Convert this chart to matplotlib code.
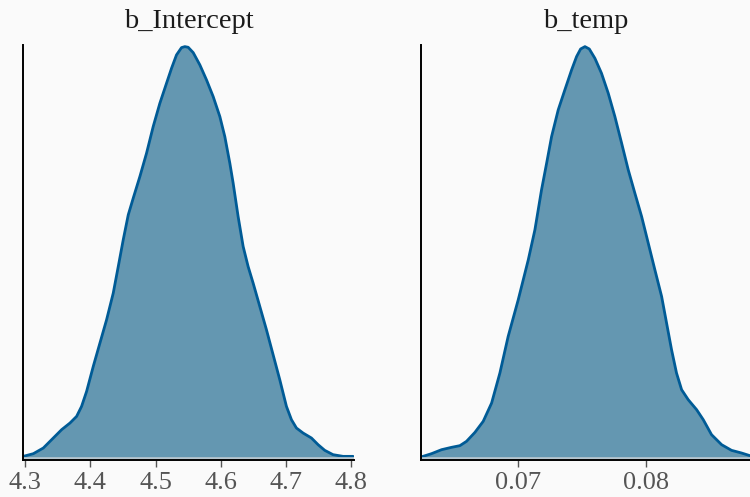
# Densidades posteriores de b_Intercept e b_temp (estilo bayesplot)
import matplotlib.pyplot as plt

# b_Intercept: pontos (x, densidade relativa ao pico)
intercept_x = [4.2974, 4.3128, 4.3281, 4.3434, 4.3561, 4.3689, 4.3791, 4.3867, 4.3944,
               4.4046, 4.4148, 4.4250, 4.4352, 4.4429, 4.4505, 4.4582, 4.4658, 4.4760,
               4.4862, 4.4964, 4.5066, 4.5168, 4.5245, 4.5321, 4.5398, 4.5449, 4.5500,
               4.5577, 4.5679, 4.5781, 4.5883, 4.5985, 4.6061, 4.6138, 4.6189, 4.6265,
               4.6342, 4.6418, 4.6495, 4.6597, 4.6699, 4.6801, 4.6903, 4.7005, 4.7082,
               4.7158, 4.7260, 4.7388, 4.7490, 4.7592, 4.7719, 4.7872, 4.8026]
intercept_d = [0.0040, 0.0105, 0.0243, 0.0486, 0.0688, 0.0850, 0.1012, 0.1255, 0.1619,
               0.2227, 0.2794, 0.3360, 0.4008, 0.4656, 0.5304, 0.5911, 0.6316, 0.6842,
               0.7409, 0.8057, 0.8623, 0.9109, 0.9474, 0.9798, 0.9976, 1.0000, 0.9984,
               0.9854, 0.9555, 0.9190, 0.8785, 0.8300, 0.7814, 0.7166, 0.6680, 0.5870,
               0.5142, 0.4656, 0.4251, 0.3684, 0.3117, 0.2510, 0.1903, 0.1255, 0.0931,
               0.0729, 0.0607, 0.0486, 0.0324, 0.0186, 0.0081, 0.0040, 0.0040]

# b_temp
temp_x = [0.06236, 0.06319, 0.06398, 0.06476, 0.06542, 0.06594, 0.06660, 0.06725,
          0.06791, 0.06856, 0.06921, 0.07000, 0.07079, 0.07131, 0.07183, 0.07223,
          0.07262, 0.07314, 0.07366, 0.07419, 0.07458, 0.07490, 0.07524, 0.07558,
          0.07602, 0.07654, 0.07707, 0.07759, 0.07812, 0.07864, 0.07916, 0.07969,
          0.08021, 0.08073, 0.08126, 0.08165, 0.08204, 0.08243, 0.08283, 0.08335,
          0.08401, 0.08453, 0.08518, 0.08597, 0.08675, 0.08754, 0.08819]
temp_d = [0.0024, 0.0105, 0.0202, 0.0259, 0.0300, 0.0405, 0.0623, 0.0891,
          0.1336, 0.2065, 0.2955, 0.3846, 0.4818, 0.5547, 0.6518, 0.7166,
          0.7814, 0.8462, 0.8947, 0.9433, 0.9757, 0.9943, 1.0000, 0.9943,
          0.9717, 0.9352, 0.8866, 0.8300, 0.7652, 0.7004, 0.6437, 0.5870,
          0.5223, 0.4575, 0.3927, 0.3279, 0.2632, 0.2065, 0.1660, 0.1417,
          0.1174, 0.0931, 0.0567, 0.0324, 0.0186, 0.0121, 0.0057]

panels = [
    ("b_Intercept", intercept_x, intercept_d, [4.3, 4.4, 4.5, 4.6, 4.7, 4.8],
     ["4.3", "4.4", "4.5", "4.6", "4.7", "4.8"], (4.297, 4.804)),
    ("b_temp", temp_x, temp_d, [0.07, 0.08], ["0.07", "0.08"], (0.06234, 0.0882)),
]

BG = "#fafafa"
FILL = "#6497b1"
LINE = "#005b96"

plt.rcParams["font.family"] = ["Liberation Serif", "DejaVu Serif"]

fig = plt.figure(figsize=(7.5, 4.97), dpi=100)
fig.patch.set_facecolor(BG)

boxes = [[0.0307, 0.0735, 0.4413, 0.836], [0.5609, 0.0735, 0.4391, 0.836]]

for box, (title, xs, ds, ticks, labels, xlim) in zip(boxes, panels):
    ax = fig.add_axes(box)
    ax.set_facecolor(BG)
    ax.fill_between(xs, 0, ds, color=FILL, linewidth=0, zorder=1)
    ax.plot(xs, ds, color=LINE, linewidth=2.0, zorder=2,
            solid_capstyle="round", solid_joinstyle="round")
    ax.axhline(0, color="#b8c6cf", linewidth=1.2, zorder=2)

    ax.set_xlim(*xlim)
    ax.set_ylim(-0.006, 1.004)
    ax.set_xticks(ticks)
    ax.set_xticklabels(labels)
    ax.set_yticks([])

    ax.tick_params(axis="x", length=5, width=1, color="#555555",
                   labelcolor="#555555", labelsize=19, pad=3)
    for side in ("top", "right"):
        ax.spines[side].set_visible(False)
    for side in ("left", "bottom"):
        ax.spines[side].set_color("black")
        ax.spines[side].set_linewidth(1.4)

    ax.set_title(title, fontsize=20.5, color="#1a1a1a", pad=12)

fig.savefig("out.png", dpi=100, facecolor=fig.get_facecolor())
